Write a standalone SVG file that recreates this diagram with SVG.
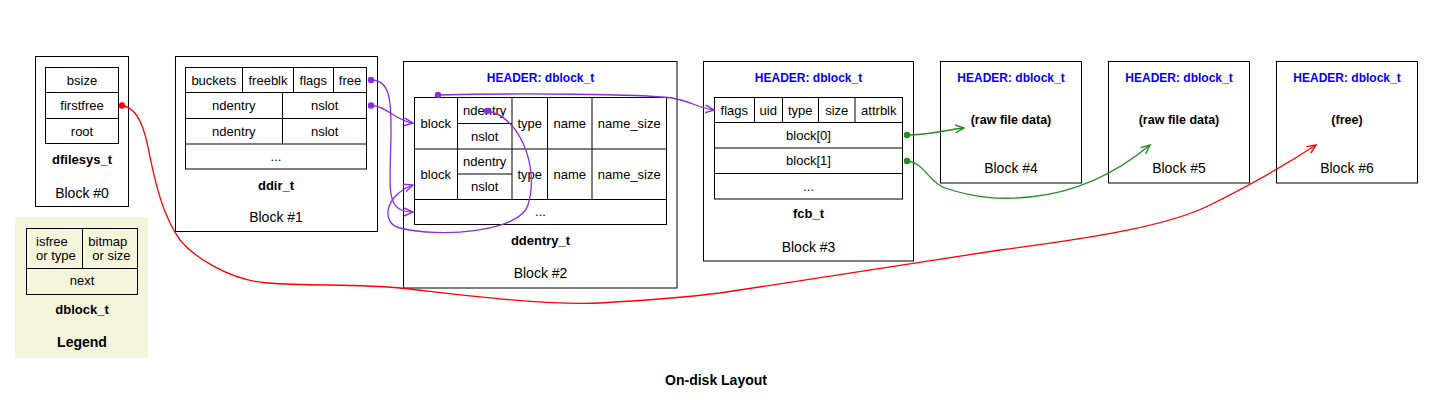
<svg xmlns="http://www.w3.org/2000/svg" width="1433" height="400" viewBox="0 0 1433 400">
<style>
.box{fill:#fff;stroke:#000;stroke-width:1}
.cell{fill:none;stroke:#000;stroke-width:1}
.ln{stroke:#000;stroke-width:1}
text{font-family:"Liberation Sans",Arial,Helvetica,sans-serif;font-size:13px;text-anchor:middle;fill:#000}
.b{font-weight:bold}
.h{font-weight:bold;fill:#0000ff;font-size:12px}
.big{font-size:14px}
.st{text-anchor:start}
.ep{fill:none;stroke:#8a2be2;stroke-width:1.3}
.er{fill:none;stroke:#ff0000;stroke-width:1.3}
.eg{fill:none;stroke:#228b22;stroke-width:1.3}
.dp{fill:#8a2be2}
.dr{fill:#ff0000}
.dg{fill:#228b22}
</style>
<defs>
<marker id="ap" viewBox="0 0 10 10" refX="9" refY="5" markerWidth="10" markerHeight="10" markerUnits="userSpaceOnUse" orient="auto"><path d="M0,1 L9,5 L0,9" fill="none" stroke="#8a2be2" stroke-width="1.4"/></marker>
<marker id="ar" viewBox="0 0 10 10" refX="9" refY="5" markerWidth="10" markerHeight="10" markerUnits="userSpaceOnUse" orient="auto"><path d="M0,1 L9,5 L0,9" fill="none" stroke="#ff0000" stroke-width="1.4"/></marker>
<marker id="ag" viewBox="0 0 10 10" refX="9" refY="5" markerWidth="10" markerHeight="10" markerUnits="userSpaceOnUse" orient="auto"><path d="M0,1 L9,5 L0,9" fill="none" stroke="#228b22" stroke-width="1.4"/></marker>
</defs>
<rect x="0" y="0" width="1433" height="400" fill="#fff"/>

<g id="block0">
<rect class="box" x="35.5" y="56.5" width="93" height="150"/>
<rect class="cell" x="45.5" y="67.5" width="73" height="76"/>
<line class="ln" x1="45.5" y1="92.5" x2="118.5" y2="92.5"/>
<line class="ln" x1="45.5" y1="118.5" x2="118.5" y2="118.5"/>
<text x="82" y="84.5">bsize</text>
<text x="82" y="110">firstfree</text>
<text x="82" y="135.5">root</text>
<text class="b" x="82" y="163.5">dfilesys_t</text>
<text class="big" x="82" y="197.5">Block #0</text>
</g>

<g id="legend">
<rect x="15" y="217" width="133" height="141" fill="#f5f5dc"/>
<rect class="cell" x="26.5" y="228.5" width="111" height="66"/>
<line class="ln" x1="26.5" y1="268.5" x2="137.5" y2="268.5"/>
<line class="ln" x1="82.5" y1="228.5" x2="82.5" y2="268.5"/>
<text class="st" x="36" y="245.5">isfree</text>
<text class="st" x="36" y="259.5">or type</text>
<text class="st" x="88.3" y="245.5">bitmap</text>
<text class="st" x="92.3" y="259.5">or size</text>
<text x="82" y="284.5">next</text>
<text class="b" x="82" y="313.8">dblock_t</text>
<text class="b big" x="82" y="346.5">Legend</text>
</g>

<g id="block1">
<rect class="box" x="175.5" y="56.5" width="202" height="175"/>
<rect class="cell" x="185.5" y="67.5" width="181" height="101.5"/>
<line class="ln" x1="185.5" y1="92.5" x2="366.5" y2="92.5"/>
<line class="ln" x1="185.5" y1="118.5" x2="366.5" y2="118.5"/>
<line class="ln" x1="185.5" y1="144" x2="366.5" y2="144"/>
<line class="ln" x1="242.5" y1="67.5" x2="242.5" y2="92.5"/>
<line class="ln" x1="293.5" y1="67.5" x2="293.5" y2="92.5"/>
<line class="ln" x1="333.5" y1="67.5" x2="333.5" y2="92.5"/>
<line class="ln" x1="282.5" y1="92.5" x2="282.5" y2="144"/>
<text x="213.8" y="84.5">buckets</text>
<text x="268" y="84.5">freeblk</text>
<text x="313.3" y="84.5">flags</text>
<text x="350" y="84.5">free</text>
<text x="233.8" y="110.2">ndentry</text>
<text x="324.7" y="110.2">nslot</text>
<text x="233.8" y="135.8">ndentry</text>
<text x="324.7" y="135.8">nslot</text>
<text x="276" y="161">...</text>
<text class="b" x="276" y="189.5">ddir_t</text>
<text class="big" x="276" y="221.5">Block #1</text>
</g>

<g id="block2">
<rect class="box" x="403.5" y="61.5" width="273.5" height="226.5"/>
<text class="h" x="540.5" y="82">HEADER: dblock_t</text>
<rect class="cell" x="414.5" y="97.5" width="252" height="127"/>
<line class="ln" x1="414.5" y1="149" x2="666.5" y2="149"/>
<line class="ln" x1="414.5" y1="199.5" x2="666.5" y2="199.5"/>
<line class="ln" x1="457.5" y1="97.5" x2="457.5" y2="199.5"/>
<line class="ln" x1="512" y1="97.5" x2="512" y2="199.5"/>
<line class="ln" x1="547.5" y1="97.5" x2="547.5" y2="199.5"/>
<line class="ln" x1="592" y1="97.5" x2="592" y2="199.5"/>
<line class="ln" x1="457.5" y1="123.5" x2="512" y2="123.5"/>
<line class="ln" x1="457.5" y1="174" x2="512" y2="174"/>
<text x="435.8" y="127.8">block</text>
<text x="484.7" y="115">ndentry</text>
<text x="484.7" y="140.7">nslot</text>
<text x="529.8" y="127.8">type</text>
<text x="569.8" y="127.8">name</text>
<text x="629.3" y="127.8">name_size</text>
<text x="435.8" y="178.7">block</text>
<text x="484.7" y="166">ndentry</text>
<text x="484.7" y="191.2">nslot</text>
<text x="529.8" y="178.7">type</text>
<text x="569.8" y="178.7">name</text>
<text x="629.3" y="178.7">name_size</text>
<text x="540.5" y="216.3">...</text>
<text class="b" x="540.5" y="244.8">ddentry_t</text>
<text class="big" x="540.5" y="278">Block #2</text>
</g>

<g id="block3">
<rect class="box" x="703.5" y="61.5" width="210" height="199.5"/>
<text class="h" x="808.5" y="82">HEADER: dblock_t</text>
<rect class="cell" x="714.5" y="97.5" width="188" height="101.5"/>
<line class="ln" x1="714.5" y1="122.5" x2="902.5" y2="122.5"/>
<line class="ln" x1="714.5" y1="148" x2="902.5" y2="148"/>
<line class="ln" x1="714.5" y1="173.5" x2="902.5" y2="173.5"/>
<line class="ln" x1="754.5" y1="97.5" x2="754.5" y2="122.5"/>
<line class="ln" x1="782.5" y1="97.5" x2="782.5" y2="122.5"/>
<line class="ln" x1="818.5" y1="97.5" x2="818.5" y2="122.5"/>
<line class="ln" x1="855" y1="97.5" x2="855" y2="122.5"/>
<text x="734.3" y="114.5">flags</text>
<text x="768.3" y="114.5">uid</text>
<text x="800.3" y="114.5">type</text>
<text x="836.7" y="114.5">size</text>
<text x="878.8" y="114.5">attrblk</text>
<text x="808.5" y="139.8">block[0]</text>
<text x="808.5" y="165.2">block[1]</text>
<text x="808.5" y="190.5">...</text>
<text class="b" x="808.5" y="218.2">fcb_t</text>
<text class="big" x="808.5" y="252">Block #3</text>
</g>

<g id="block4">
<rect class="box" x="940.5" y="61.5" width="141" height="121.5"/>
<text class="h" x="1011" y="82">HEADER: dblock_t</text>
<text class="b" x="1011" y="123.5" style="font-size:12.5px">(raw file data)</text>
<text class="big" x="1011" y="173">Block #4</text>
</g>

<g id="block5">
<rect class="box" x="1108.5" y="61.5" width="141" height="121.5"/>
<text class="h" x="1179" y="82">HEADER: dblock_t</text>
<text class="b" x="1179" y="123.5" style="font-size:12.5px">(raw file data)</text>
<text class="big" x="1179" y="173">Block #5</text>
</g>

<g id="block6">
<rect class="box" x="1276.5" y="61.5" width="141" height="121.5"/>
<text class="h" x="1347" y="82">HEADER: dblock_t</text>
<text class="b" x="1347" y="123.5" style="font-size:12.5px">(free)</text>
<text class="big" x="1347" y="173">Block #6</text>
</g>

<g id="connectors">
<path class="er" marker-end="url(#ar)" d="M122,105.5 C140,108 146,135 150,157 C155,180 162,215 180,240 C195,258 230,280 267,283 C310,286 360,284 400,288 C440,292 540,306 600,303 C650,300 680,298 720,293 C800,280 900,265 1000,250 C1100,237 1170,225 1210,205 C1250,185 1290,162 1316,145"/>
<circle class="dr" cx="122" cy="105.5" r="3.2"/>
<path class="ep" marker-end="url(#ap)" d="M371,80 C390,80 391,100 391,130 C391,170 386,200 398,208 C402,211 407,212 413,212"/>
<circle class="dp" cx="371" cy="80" r="3.2"/>
<path class="ep" marker-end="url(#ap)" d="M371,105.5 C386,105.5 396,121 413,123"/>
<circle class="dp" cx="371" cy="105.5" r="3.2"/>
<path class="ep" marker-end="url(#ap)" d="M438,95 C520,93 640,94 672,98 C690,101 698,108 714,110"/>
<circle class="dp" cx="438" cy="95" r="3.2"/>
<path class="ep" marker-end="url(#ap)" d="M487,111 C518,115 540,165 528,205 C520,232 440,238 400,228 C380,223 385,195 413,185"/>
<circle class="dp" cx="487" cy="111" r="3.2"/>
<path class="eg" marker-end="url(#ag)" d="M907,135 C930,135 945,130 964,128"/>
<circle class="dg" cx="907" cy="135" r="3.2"/>
<path class="eg" marker-end="url(#ag)" d="M907,161 C925,163 928,182 945,188 C975,198 1000,200 1030,197 C1080,192 1120,170 1150,145"/>
<circle class="dg" cx="907" cy="161" r="3.2"/>
</g>

<text class="b big" x="716" y="385">On-disk Layout</text>
</svg>
